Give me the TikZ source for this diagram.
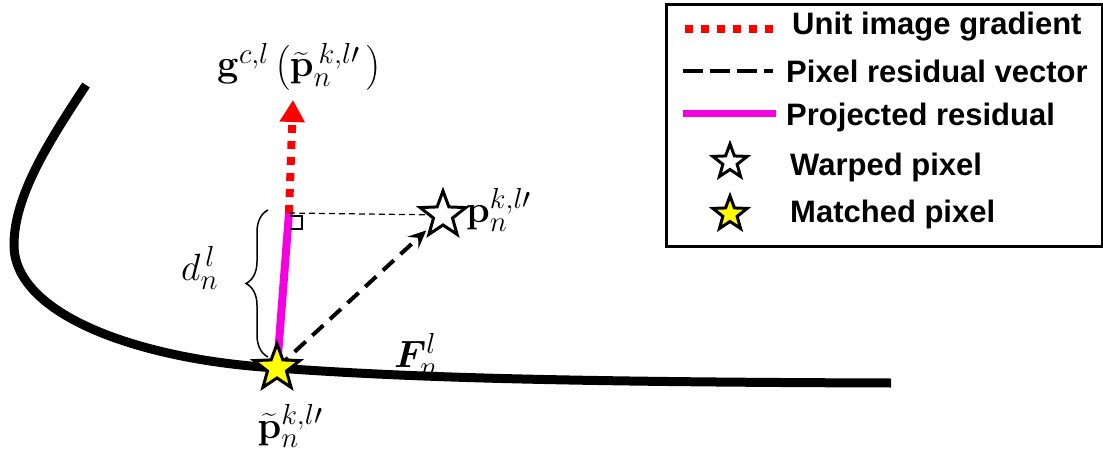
\RequirePackage{fix-cm}
\documentclass[tikz,border=0pt]{standalone}
\usepackage{amsmath}
\usepackage{bm}
\usepackage[no-math]{fontspec}
\setmainfont{Liberation Sans}
\DeclareMathSizes{38}{38}{29}{23}
\usetikzlibrary{shapes.geometric,arrows.meta,decorations.pathreplacing}
\definecolor{mag}{RGB}{245,0,225}
\definecolor{yel}{RGB}{255,255,0}
\pgfdeclarelayer{bg}
\pgfsetlayers{bg,main}
\tikzset{
  curveline/.style={line width=9pt},
  projline/.style={mag, line width=8pt},
  graddots/.style={red, line width=8pt, dash pattern=on 8pt off 8pt},
  resdash/.style={line width=4pt, dash pattern=on 15pt off 9pt},
  thindash/.style={line width=1.2pt, dash pattern=on 6pt off 4pt},
  starbase/.style={star, star points=5, star point ratio=2.4, draw=black, line width=3pt, inner sep=0pt},
  bigstar/.style={starbase, minimum size=48pt},
  smallstar/.style={starbase, minimum size=36pt},
  legtext/.style={anchor=base west, inner sep=0pt, font=\fontsize{31}{36}\selectfont\bfseries},
  mathlbl/.style={inner sep=0pt, font=\fontsize{38}{44}\selectfont},
}
\begin{document}
\begin{tikzpicture}[x=1pt,y=-1pt]
\useasboundingbox (0,0) rectangle (1103,460);
% main stars
\node[bigstar, fill=yel] (ms) at (277,368) {};
\node[bigstar, fill=white] (ws) at (443,215) {};
\coordinate (top) at (289,213);
\coordinate (gtip) at (293,100);
\begin{pgfonlayer}{bg}
% curve F
\draw[curveline] (86,85) .. controls (50,140) and (14,195) .. (14,245)
   .. controls (14,315) and (140,360) .. (ms.center)
   .. controls (400,377) and (550,382) .. (891,383) coordinate (fend);
% projected residual
\draw[projline] (ms.center) -- (top);
% gradient
\draw[graddots, -{Triangle[length=22pt,width=24pt]}] (top) -- (gtip);
% thin dashed
\draw[thindash] (top) -- (ws.center);
% residual vector
\draw[resdash, -{Stealth[length=18pt,width=16pt,inset=7pt]}, shorten >=4pt] (ms.center) -- (ws);
% right angle mark
\draw[line width=2pt] (290,216) -- (302,216) -- (302,229) -- (290,229);
\end{pgfonlayer}
% brace
\draw[line width=1.5pt, decorate, decoration={brace, amplitude=22pt}] (268,357) -- (268,210) coordinate[pos=0.5] (bmid);
% labels
\node[mathlbl, anchor=base] (glbl) at (299,77) {$\mathbf{g}^{c,l}\,\bigl(\widetilde{\mathbf{p}}_n^{\,k,l\prime}\,\bigr)$};
\node[mathlbl, anchor=base west] (plbl) at (466,222) {$\mathbf{p}_n^{k,l\prime}$};
\node[mathlbl, anchor=base] (ptl) at (290,438) {$\widetilde{\mathbf{p}}_n^{k,l\prime}$};
\node[mathlbl, anchor=base west] (flbl) at (394,367) {$\bm{F}_n^l$};
\node[mathlbl, anchor=base west] (dlbl) at (181,280) {$d_n^{\,l}$};
% legend
\node[draw, line width=3pt, minimum width=436pt, minimum height=242pt, anchor=north west, inner sep=0pt] (leg) at (665,3) {};
\draw[graddots] (685,29) -- (773,29);
\draw[resdash, dash pattern=on 20pt off 7pt] (683,71) -- (773,71);
\draw[projline, line width=7pt] (683,113) -- (776,113);
\node[smallstar, fill=white] (lws) at (730,162) {};
\node[smallstar, fill=yel] (lms) at (730,214) {};
\node[legtext] (t1) at (792,35) {Unit image gradient};
\node[legtext] (t2) at (786,82) {Pixel residual vector};
\node[legtext] (t3) at (786,125) {Projected residual};
\node[legtext] (t4) at (790,175) {Warped pixel};
\node[legtext] (t5) at (790,222) {Matched pixel};
\end{tikzpicture}
\end{document}
